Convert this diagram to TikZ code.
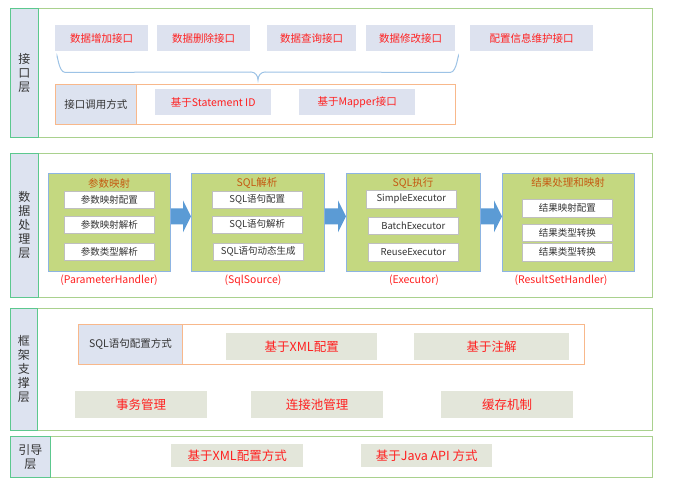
\documentclass[tikz,border=0pt]{standalone}
\usepackage{fontspec}
\setmainfont{Noto Sans CJK SC}
\usetikzlibrary{calc}

\definecolor{layerline}{HTML}{A9D18E}
\definecolor{tagline}{HTML}{5CC88E}
\definecolor{tagfill}{HTML}{DDE3F0}
\definecolor{btnfill}{HTML}{DDE2EF}
\definecolor{callline}{HTML}{F8B88B}
\definecolor{grpfill}{HTML}{C4D880}
\definecolor{grpline}{HTML}{8DB4E2}
\definecolor{titleor}{HTML}{C55A11}
\definecolor{arrblue}{HTML}{5B9BD5}
\definecolor{bracec}{HTML}{9DC3E6}
\definecolor{grayfill}{HTML}{E3E6DA}
\definecolor{txtred}{HTML}{FF2020}
\definecolor{txtgray}{HTML}{333333}

\tikzset{
  layer/.style={draw=layerline, line width=0.9pt, fill=white},
  tag/.style={draw=tagline, line width=0.9pt, fill=tagfill, font=\fontsize{12}{14}\selectfont, text=txtgray, align=center},
  btn/.style={fill=btnfill, text=txtred, font=\fontsize{10.5}{12}\selectfont},
  callbox/.style={draw=callline, line width=0.9pt, fill=white},
  callcell/.style={draw=callline, line width=0.9pt, fill=tagfill, text=txtgray, font=\fontsize{10.5}{12}\selectfont},
  grp/.style={draw=grpline, line width=0.8pt, fill=grpfill},
  grptitle/.style={text=titleor, font=\fontsize{10.5}{12}\selectfont},
  item/.style={draw=black!25, line width=0.6pt, fill=white, text=txtgray, font=\fontsize{9.5}{11}\selectfont},
  handler/.style={text=txtred, font=\fontsize{10.5}{12}\selectfont},
  graybtn/.style={fill=grayfill, text=txtred, font=\fontsize{12.5}{14}\selectfont},
  flow/.style={fill=arrblue},
  brc/.style={draw=bracec, line width=1pt},
}

% box from its top left corner (x1,y1) to its bottom right corner (x2,y2)
\newcommand\cell[7]{%
  \pgfmathsetmacro\cw{#5-#3}\pgfmathsetmacro\ch{#6-#4}%
  \node[#2, anchor=north west, minimum width=\cw pt, minimum height=\ch pt, inner sep=0pt] (#1) at (#3,#4) {#7};}

\begin{document}
\begin{tikzpicture}[x=1pt, y=-1pt]
\useasboundingbox (0,0) rectangle (677,492);

% ---------- interface layer ----------
\cell{L1}{layer}{10}{8}{652}{137}{}
\cell{T1}{tag}{10}{8}{38}{137}{接\\口\\层}
\cell{b1}{btn}{55}{25}{148}{51}{数据增加接口}
\cell{b2}{btn}{157}{25}{250}{51}{数据删除接口}
\cell{b3}{btn}{267}{25}{356}{51}{数据查询接口}
\cell{b4}{btn}{366}{25}{455}{51}{数据修改接口}
\cell{b5}{btn}{470}{25}{593}{51}{配置信息维护接口}
% brace grouping the four data interfaces
\coordinate (brL) at ($(b1.south west)+(2,6)$);
\coordinate (brR) at ($(b4.south east)+(3,6)$);
\coordinate (brM) at (258,80);
\draw[brc] (brL) to[out=90,in=180] ($(brL)+(8,15)$) -- ($(brM)+(-7,-8)$)
  to[out=0,in=90] (brM) to[out=90,in=180] ($(brM)+(7,-8)$)
  -- ($(brR)+(-8,15)$) to[out=0,in=90] (brR);
\cell{C1}{callbox}{55}{84}{455}{124}{}
\cell{c0}{callcell}{55}{84}{136}{124}{接口调用方式}
\cell{c1}{btn}{155}{89}{271}{115}{基于Statement ID}
\cell{c2}{btn}{299}{89}{415}{115}{基于Mapper接口}

% ---------- data processing layer ----------
\cell{L2}{layer}{10}{153}{652}{297}{}
\cell{T2}{tag}{10}{153}{38}{297}{数\\据\\处\\理\\层}

\cell{g1}{grp}{48}{173}{170}{271}{}
\node[grptitle] at (109,183) {参数映射};
\cell{g1a}{item}{64}{191}{154}{208}{参数映射配置}
\cell{g1b}{item}{64}{216}{154}{233}{参数映射解析}
\cell{g1c}{item}{64}{243}{154}{260}{参数类型解析}
\node[handler] (h1) at (109,280) {(ParameterHandler)};

\cell{g2}{grp}{191}{173}{324}{271}{}
\node[grptitle] at (257,183) {SQL解析};
\cell{g2a}{item}{212}{191}{302}{208}{SQL语句配置}
\cell{g2b}{item}{212}{216}{302}{233}{SQL语句解析}
\cell{g2c}{item}{213}{243}{303}{260}{SQL语句动态生成}
\node[handler] (h2) at (253,280) {(SqlSource)};

\cell{g3}{grp}{346}{173}{480}{271}{}
\node[grptitle] at (413,183) {SQL执行};
\cell{g3a}{item}{366}{190}{456}{208}{SimpleExecutor}
\cell{g3b}{item}{368}{217}{458}{234}{BatchExecutor}
\cell{g3c}{item}{368}{243}{458}{261}{ReuseExecutor}
\node[handler] (h3) at (414,280) {(Executor)};

\cell{g4}{grp}{502}{173}{634}{271}{}
\node[grptitle] at (568,183) {结果处理和映射};
\cell{g4a}{item}{522}{199}{612}{217}{结果映射配置}
\cell{g4b}{item}{522}{224}{612}{241}{结果类型转换}
\cell{g4c}{item}{522}{243}{612}{261}{结果类型转换}
\node[handler] (h4) at (561,280) {(ResultSetHandler)};

% block arrows between the stages
\foreach \a/\b in {g1/g2, g2/g3, g3/g4}{
  \path (\a.east) ++(0,-6) coordinate (s) (\b.west) ++(0,-6) coordinate (t);
  \fill[flow] ($(s)+(0,-8)$) -- ($(t)+(-8,-8)$) -- ($(t)+(-8,-16)$) -- (t)
    -- ($(t)+(-8,16)$) -- ($(t)+(-8,8)$) -- ($(s)+(0,8)$) -- cycle;
}

% ---------- framework support layer ----------
\cell{L3}{layer}{10}{308}{652}{430}{}
\cell{T3}{tag}{10}{308}{37}{430}{框\\架\\支\\撑\\层}
\cell{C3}{callbox}{78}{324}{584}{364}{}
\cell{c30}{callcell}{78}{324}{182}{364}{SQL语句配置方式}
\cell{x1}{graybtn}{226}{333}{377}{360}{基于XML配置}
\cell{x2}{graybtn}{414}{333}{569}{360}{基于注解}
\cell{s1}{graybtn}{75}{391}{207}{418}{事务管理}
\cell{s2}{graybtn}{251}{391}{383}{418}{连接池管理}
\cell{s3}{graybtn}{441}{391}{573}{418}{缓存机制}

% ---------- bootstrap layer ----------
\cell{L4}{layer}{10}{436}{652}{477}{}
\cell{T4}{tag}{10}{436}{50}{477}{引导\\层}
\cell{y1}{graybtn}{171}{444}{303}{467}{基于XML配置方式}
\cell{y2}{graybtn}{361}{444}{492}{467}{基于Java API 方式}
\end{tikzpicture}
\end{document}
